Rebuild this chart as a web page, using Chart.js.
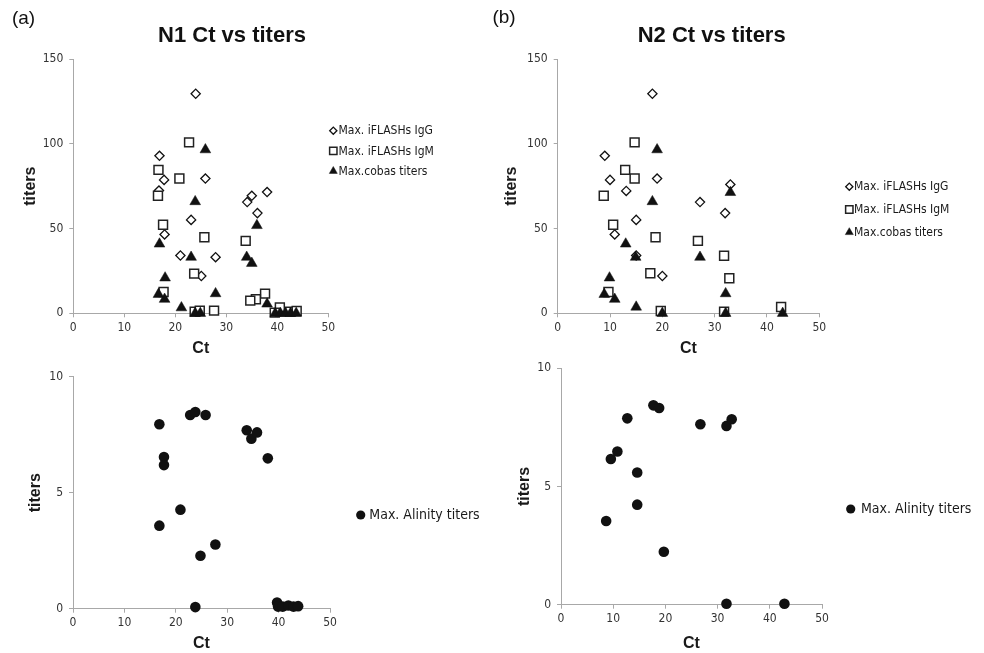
<!DOCTYPE html>
<html>
<head>
<meta charset="utf-8">
<script src="https://cdn.jsdelivr.net/npm/chart.js@4/dist/chart.umd.min.js"></script>
<style>
  body { margin: 0; background: #fff; }
  #wrap { position: relative; width: 984px; height: 653px; overflow: hidden; }
  canvas { position: absolute; }
</style>
</head>
<body>
<div id="wrap">
  <canvas id="n1Top" width="492" height="358" style="left:0;top:0"></canvas>
  <canvas id="n2Top" width="492" height="358" style="left:492px;top:0"></canvas>
  <canvas id="n1Bot" width="492" height="291" style="left:0;top:362px"></canvas>
  <canvas id="n2Bot" width="492" height="298" style="left:492px;top:355px"></canvas>
</div>
<script>
// ---- data ----
var ctTicks = [0, 10, 20, 30, 40, 50];
var titerTicksTop = [0, 50, 100, 150];
var titerTicksBot = [0, 5, 10];

// N1 panel (a)
var n1IggCt = [24.0, 16.9, 17.8, 16.8, 25.9, 34.1, 35.0, 38.0, 36.1, 23.1, 17.9, 21.0, 27.9, 25.1];
var n1IggTiter = [129.5, 92.9, 78.7, 72.4, 79.5, 65.6, 69.3, 71.5, 59.1, 55.1, 46.5, 34.1, 33.1, 22.0];
var n1IgmCt = [22.7, 16.7, 20.8, 16.6, 17.6, 25.7, 33.8, 23.7, 17.7, 37.6, 35.8, 34.7, 23.8, 24.8, 27.6, 40.5, 39.5, 42.5, 43.8];
var n1IgmTiter = [100.8, 84.6, 79.5, 69.3, 52.2, 44.9, 42.7, 23.4, 12.6, 11.6, 8.3, 7.5, 1.0, 1.6, 1.6, 3.5, 0.4, 1.0, 1.4];
var n1CobasCt = [25.9, 23.9, 36.0, 16.9, 23.1, 34.0, 35.0, 18.0, 27.9, 16.7, 17.9, 38.0, 21.2, 23.9, 24.9, 39.6, 40.6, 41.6, 42.6, 43.7];
var n1CobasTiter = [96.5, 65.9, 51.8, 40.9, 33.1, 33.1, 29.5, 20.9, 11.6, 11.2, 8.3, 5.5, 3.3, 0, 0, 0, 0, 0, 0, 0];
var n1AlinityCt = [16.8, 16.8, 17.7, 17.7, 20.9, 22.8, 23.8, 25.8, 24.8, 27.7, 23.8, 33.8, 34.7, 35.8, 37.9, 39.7, 39.9, 40.8, 41.9, 42.9, 43.8];
var n1AlinityTiter = [7.95, 3.58, 6.54, 6.19, 4.27, 8.35, 8.48, 8.35, 2.28, 2.77, 0.07, 7.69, 7.33, 7.6, 6.48, 0.27, 0.09, 0.09, 0.14, 0.09, 0.11];

// N2 panel (b)
var n2IggCt = [18.1, 9.0, 10.0, 13.1, 19.0, 27.2, 33.0, 32.0, 15.0, 10.9, 15.0, 20.0];
var n2IggTiter = [129.5, 92.9, 78.7, 72.2, 79.5, 65.6, 76.0, 59.1, 55.1, 46.5, 34.1, 22.0];
var n2IgmCt = [14.7, 12.9, 14.7, 8.8, 10.6, 18.7, 26.8, 31.8, 32.8, 17.7, 9.7, 19.7, 31.8, 42.7];
var n2IgmTiter = [100.8, 84.6, 79.5, 69.3, 52.2, 44.9, 42.7, 33.9, 20.7, 23.6, 12.6, 1.4, 1.0, 3.7];
var n2CobasCt = [19.0, 18.1, 33.0, 13.0, 14.9, 27.2, 9.9, 32.1, 8.9, 10.9, 15.0, 20.0, 32.1, 43.0];
var n2CobasTiter = [96.5, 65.9, 71.3, 40.9, 33.1, 33.1, 20.9, 11.6, 11.2, 8.3, 3.7, 0, 0, 0];
var n2AlinityCt = [8.65, 9.55, 10.8, 12.7, 14.6, 14.6, 17.7, 18.8, 19.7, 26.7, 31.7, 32.7, 31.7, 42.8];
var n2AlinityTiter = [3.54, 6.16, 6.48, 7.88, 5.59, 4.23, 8.43, 8.32, 2.24, 7.63, 7.56, 7.84, 0.04, 0.04];

var labelIgg = 'Max. iFLASHs IgG';
var labelIgm = 'Max. iFLASHs IgM';
var labelCobas = 'Max.cobas titers';
var labelAlinity = 'Max. Alinity titers';

// ---- helpers ----
var AXIS = '#a8a8a8';
var TICKFONT = { family: "'DejaVu Sans Condensed', 'DejaVu Sans', sans-serif", size: 12 };
var TITLEFONT = { family: "'Liberation Sans', Arial, sans-serif", size: 16, weight: 'bold' };

function pts(xs, ys) {
  return xs.map(function (x, i) { return { x: x, y: ys[i] }; });
}

function iggSet(xs, ys) {
  return { label: labelIgg, data: pts(xs, ys), pointStyle: 'rectRot', pointRadius: 4.6,
    backgroundColor: '#fff', borderColor: '#111', borderWidth: 1.3, order: 3, clip: false };
}
function igmSet(xs, ys) {
  return { label: labelIgm, data: pts(xs, ys), pointStyle: 'rect', pointRadius: 6.3,
    backgroundColor: '#fff', borderColor: '#222', borderWidth: 1.5, order: 2, clip: false };
}
function cobasSet(xs, ys) {
  return { label: labelCobas, data: pts(xs, ys), pointStyle: 'triangle', pointRadius: 6.2,
    backgroundColor: '#111', borderColor: '#111', borderWidth: 0.5, order: 1, clip: false };
}
function alinitySet(xs, ys) {
  return { label: labelAlinity, data: pts(xs, ys), pointStyle: 'circle', pointRadius: 5.3,
    backgroundColor: '#111', borderColor: '#111', borderWidth: 0, order: 1, clip: false };
}

// draws panel labels, titles and a free-standing legend
var panelDecor = {
  id: 'panelDecor',
  afterDraw: function (chart, args, opts) {
    var ctx = chart.ctx;
    ctx.save();
    (opts.texts || []).forEach(function (t) {
      ctx.font = t.font;
      ctx.fillStyle = t.color || '#111';
      ctx.textAlign = t.align || 'center';
      ctx.textBaseline = 'middle';
      ctx.fillText(t.text, t.x, t.y);
    });
    var lg = opts.legend;
    if (lg) {
      chart.data.datasets.forEach(function (ds, i) {
        var y = lg.y + i * lg.gap;
        ctx.fillStyle = ds.backgroundColor;
        ctx.strokeStyle = ds.borderColor;
        ctx.lineWidth = ds.borderWidth;
        Chart.helpers.drawPoint(ctx, { pointStyle: ds.pointStyle, radius: lg.radius[i], rotation: 0,
          borderWidth: ds.borderWidth }, lg.x, y);
        ctx.fillStyle = '#1a1a1a';
        ctx.font = lg.font;
        ctx.textAlign = 'left';
        ctx.textBaseline = 'middle';
        ctx.fillText(ds.label, lg.textX, y + 0.5);
      });
    }
    ctx.restore();
  }
};

function makeChart(id, datasets, cfg) {
  return new Chart(document.getElementById(id), {
    type: 'scatter',
    data: { datasets: datasets },
    plugins: [panelDecor],
    options: {
      responsive: false,
      animation: false,
      devicePixelRatio: 1,
      layout: { padding: { top: cfg.padTop, left: cfg.padLeft, right: cfg.padRight, bottom: 0 } },
      plugins: {
        legend: { display: false },
        tooltip: { enabled: false },
        panelDecor: { texts: cfg.texts, legend: cfg.legend }
      },
      scales: {
        x: {
          type: 'linear', min: ctTicks[0], max: ctTicks[ctTicks.length - 1],
          afterBuildTicks: function (s) { s.ticks = ctTicks.map(function (v) { return { value: v }; }); },
          afterFit: function (s) { s.height = cfg.xHeight; },
          ticks: { font: TICKFONT, color: '#333', padding: 3 },
          grid: { drawOnChartArea: false, drawTicks: true, tickLength: 4, color: AXIS },
          border: { display: true, color: AXIS, width: 1 },
          title: { display: true, text: 'Ct', font: TITLEFONT, color: '#1a1a1a', padding: 0 }
        },
        y: {
          type: 'linear', min: cfg.yTicks[0], max: cfg.yTicks[cfg.yTicks.length - 1],
          afterBuildTicks: function (s) { s.ticks = cfg.yTicks.map(function (v) { return { value: v }; }); },
          afterFit: function (s) { s.width = cfg.yWidth; },
          ticks: { font: TICKFONT, color: '#333', padding: 6 },
          grid: { drawOnChartArea: false, drawTicks: true, tickLength: 4, color: AXIS },
          border: { display: true, color: AXIS, width: 1 },
          title: { display: true, text: 'titers', font: TITLEFONT, color: '#1a1a1a', padding: 0 }
        }
      }
    }
  });
}

var topLegendFont = "12px 'DejaVu Sans Condensed', 'DejaVu Sans', sans-serif";
var botLegendFont = "14px 'DejaVu Sans Condensed', 'DejaVu Sans', sans-serif";
var labelFont = "19px 'Liberation Sans', Arial, sans-serif";
var headFont = "bold 22px 'Liberation Sans', Arial, sans-serif";

makeChart('n1Top', [iggSet(n1IggCt, n1IggTiter), igmSet(n1IgmCt, n1IgmTiter), cobasSet(n1CobasCt, n1CobasTiter)], {
  padTop: 59, padLeft: 21.4, padRight: 163.7, yWidth: 51.9, xHeight: 44.7, yTicks: titerTicksTop,
  texts: [
    { text: '(a)', x: 23.5, y: 19, font: labelFont },
    { text: 'N1 Ct vs titers', x: 232, y: 36, font: headFont }
  ],
  legend: { x: 333.3, y: 130.7, gap: 20.2, textX: 338.5, font: topLegendFont, radius: [3.6, 5.2, 4.6] }
});

makeChart('n2Top', [iggSet(n2IggCt, n2IggTiter), igmSet(n2IgmCt, n2IgmTiter), cobasSet(n2CobasCt, n2CobasTiter)], {
  padTop: 59, padLeft: 10.4, padRight: 164.7, yWidth: 55.3, xHeight: 44.7, yTicks: titerTicksTop,
  texts: [
    { text: '(b)', x: 12, y: 18, font: labelFont },
    { text: 'N2 Ct vs titers', x: 219.7, y: 36, font: headFont }
  ],
  legend: { x: 357.3, y: 186.7, gap: 22.8, textX: 362, font: topLegendFont, radius: [3.6, 5.2, 4.6] }
});

makeChart('n1Bot', [alinitySet(n1AlinityCt, n1AlinityTiter)], {
  padTop: 14.7, padLeft: 25.9, padRight: 162, yWidth: 47.1, xHeight: 44.3, yTicks: titerTicksBot,
  texts: [],
  legend: { x: 360.7, y: 153, gap: 0, textX: 369.3, font: botLegendFont, radius: [4.6] }
});

makeChart('n2Bot', [alinitySet(n2AlinityCt, n2AlinityTiter)], {
  padTop: 11.7, padLeft: 23.4, padRight: 162, yWidth: 45.6, xHeight: 48.3, yTicks: titerTicksBot,
  texts: [],
  legend: { x: 358.7, y: 154, gap: 0, textX: 369, font: botLegendFont, radius: [4.6] }
});
</script>
</body>
</html>
